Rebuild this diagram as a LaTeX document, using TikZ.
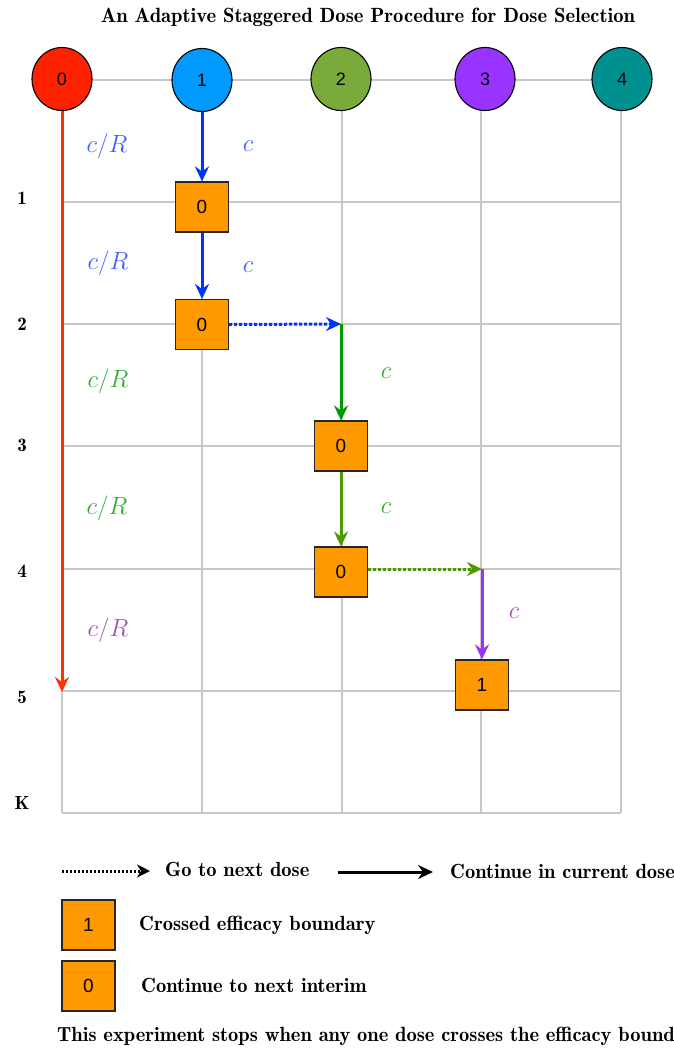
\documentclass[tikz,border=0pt]{standalone}
\usepackage{fontspec}
\newfontfamily\arialf{Liberation Sans}
\newfontfamily\demif{lmromandemi10-regular.otf}
\usetikzlibrary{arrows.meta,shapes.geometric}
\definecolor{gridc}{HTML}{C8C8C8}
\definecolor{boxor}{HTML}{FF9900}
\definecolor{cred}{HTML}{FF2200}
\definecolor{cblue}{HTML}{0099FF}
\definecolor{cgreen}{HTML}{7AAB3A}
\definecolor{cpurple}{HTML}{9933FF}
\definecolor{cteal}{HTML}{009090}
\definecolor{ablue}{HTML}{0033FF}
\definecolor{agreen}{HTML}{009900}
\definecolor{aolive}{HTML}{4D9900}
\definecolor{apurple}{HTML}{9933FF}
\definecolor{ared}{HTML}{FF3300}
\definecolor{lblue}{HTML}{3F5FFF}
\definecolor{lgreen}{HTML}{33AA33}
\definecolor{lpurple}{HTML}{A050B0}
\begin{document}
\begin{tikzpicture}[x=1pt,y=-1pt,
  gridl/.style={draw=gridc, line width=1.6pt},
  dosec/.style={ellipse, draw=black, line width=1.1pt, minimum width=60pt, minimum height=63pt, inner sep=0pt, font=\arialf\fontsize{18}{20}\selectfont},
  boxn/.style={rectangle, draw=black!85, line width=1.1pt, fill=boxor, minimum width=53pt, minimum height=50pt, inner sep=0pt, font=\arialf\fontsize{19}{21}\selectfont},
  arr/.style={line width=3pt, -{Stealth[length=15pt,width=14pt,inset=5pt]}},
  darr/.style={line width=3pt, dash pattern=on 3pt off 2pt, -{Stealth[length=15pt,width=14pt,inset=5pt]}},
  lbl/.style={font=\fontsize{24.88}{28}\selectfont},
  rowl/.style={font=\demif\fontsize{19}{21}\selectfont},
  txt/.style={font=\demif\fontsize{20.5}{23}\selectfont, anchor=west, inner sep=0pt}
]
\useasboundingbox (0,0) rectangle (674,1049);
% title
\node[font=\demif\fontsize{20.6}{23}\selectfont] (title) at (368,17) {An Adaptive Staggered Dose Procedure for Dose Selection};
% grid
\draw[gridl] (62,80) -- (621,80);
\foreach \y in {202,324,446,569,691,813} \draw[gridl] (62,\y) -- (621,\y);
\foreach \x in {62,202,342,481,621} \draw[gridl] (\x,80) -- (\x,813);
% row labels
\node[rowl] (r1) at (22,198) {1};
\node[rowl] (r2) at (22,324) {2};
\node[rowl] (r3) at (22,445) {3};
\node[rowl] (r4) at (22,571) {4};
\node[rowl] (r5) at (22,697) {5};
\node[rowl] (rk) at (22,803) {K};
% dose circles
\node[dosec, fill=cred] (d0) at (62,79) {0};
\node[dosec, fill=cblue] (d1) at (202,80) {1};
\node[dosec, fill=cgreen] (d2) at (341,79) {2};
\node[dosec, fill=cpurple] (d3) at (485,79) {3};
\node[dosec, fill=cteal] (d4) at (622,79) {4};
% boxes
\node[boxn] (b1) at (202,207) {0};
\node[boxn] (b2) at (202,324.5) {0};
\node[boxn] (b3) at (341,446) {0};
\node[boxn] (b4) at (341,572) {0};
\node[boxn] (b5) at (482,685) {1};
\coordinate (j2) at (341,324);
\coordinate (j4) at (482,569);
\coordinate (rend) at (62,692);
% arrows
\draw[arr, draw=ared] (d0.south) -- (rend);
\draw[arr, draw=ablue] (d1.south) -- (b1.north);
\draw[arr, draw=ablue] (b1.south) -- (b2.north);
\draw[darr, draw=ablue] (b2.east) -- (j2);
\draw[arr, draw=agreen] (j2) -- (b3.north);
\draw[arr, draw=aolive] (b3.south) -- (b4.north);
\draw[darr, draw=aolive] (b4.east |- j4) -- (j4);
\draw[arr, draw=apurple] (j4) -- (b5.north);
% labels
\node[lbl, text=lblue] (l1) at (107,146) {$c/R$};
\node[lbl, text=lblue] (l2) at (248,146) {$c$};
\node[lbl, text=lblue] (l3) at (108,263) {$c/R$};
\node[lbl, text=lblue] (l4) at (248,267) {$c$};
\node[lbl, text=lgreen] (l5) at (108,381) {$c/R$};
\node[lbl, text=lgreen] (l6) at (386,373) {$c$};
\node[lbl, text=lgreen] (l7) at (107,508) {$c/R$};
\node[lbl, text=lgreen] (l8) at (386,508) {$c$};
\node[lbl, text=lpurple] (l9) at (108,630) {$c/R$};
\node[lbl, text=lpurple] (l10) at (514,613) {$c$};
% legend
\coordinate (ld1) at (62,871);
\coordinate (ld2) at (150,871);
\draw[line width=3pt, dash pattern=on 2pt off 2pt, -{Stealth[length=13pt,width=13pt,inset=4pt]}, draw=black] (ld1) -- (ld2);
\node[txt] (tgo) at (165,869) {Go to next dose};
\coordinate (ls1) at (338,872);
\coordinate (ls2) at (433,872);
\draw[line width=3pt, -{Stealth[length=15pt,width=14pt,inset=5pt]}, draw=black] (ls1) -- (ls2);
\node[txt] (tcont) at (450,871) {Continue in current dose};
\node[boxn] (lb1) at (88.5,925) {1};
\node[txt] (tcross) at (139,925) {Crossed efficacy boundary};
\node[boxn] (lb0) at (88.5,986) {0};
\node[txt] (tnext) at (141,985) {Continue to next interim};
\node[txt] (tstop) at (57,1036) {This experiment stops when any one dose crosses the efficacy bound};
\end{tikzpicture}
\end{document}
